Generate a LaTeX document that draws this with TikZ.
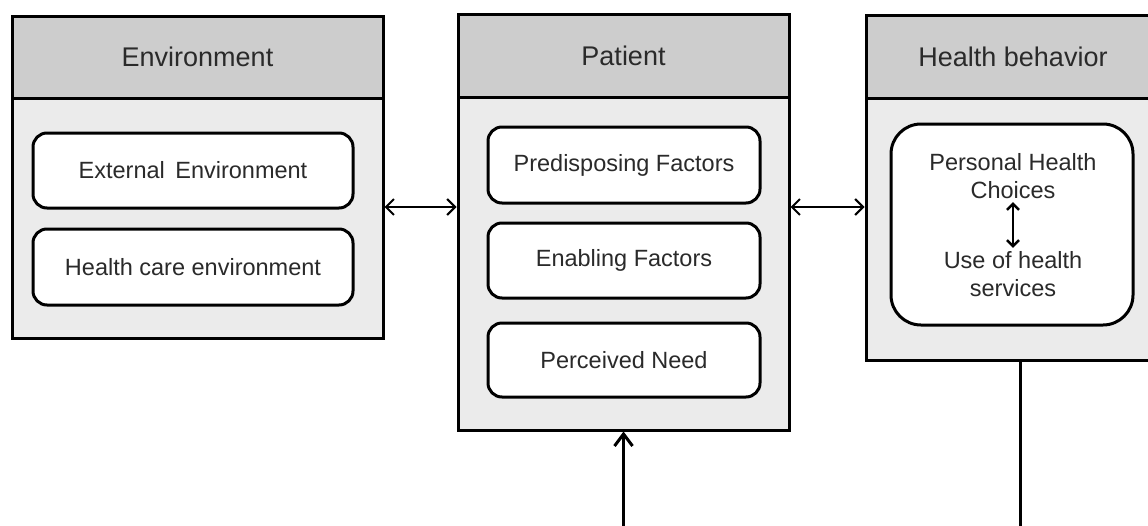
\documentclass[tikz,border=0pt]{standalone}
\usepackage{fontspec}
\setmainfont{Liberation Sans}
\usetikzlibrary{arrows.meta}
\definecolor{headgray}{HTML}{CDCDCD}
\definecolor{bodygray}{HTML}{EBEBEB}
\definecolor{textgray}{HTML}{2A2A2A}
\tikzset{
    headbox/.style={draw, line width=3pt, fill=headgray, text=textgray, minimum height=82pt, font=\fontsize{27}{32}\selectfont},
    bodybox/.style={draw, line width=3pt, fill=bodygray},
    itembox/.style={draw, line width=3pt, fill=white, rounded corners=14pt, text=textgray, font=\fontsize{23.5}{28}\selectfont},
    itemtext/.style={text=textgray, align=center, font=\fontsize{23.5}{28}\selectfont},
    link/.style={line width=2pt, {Straight Barb[length=8pt,width=16pt]}-{Straight Barb[length=8pt,width=16pt]}}
}
\begin{document}
\begin{tikzpicture}[x=1pt, y=-1pt]
            \useasboundingbox (0,0) rectangle (1148,525);
            \clip (0,0) rectangle (1148,525);
            % environment
            \node[bodybox, minimum width=371pt, minimum height=240pt] (envbody) at (197.5,218) {};
            \node[headbox, minimum width=371pt] (envhead) at (197.5,57) {Environment};
            \node[itembox, minimum width=320pt, minimum height=75pt] (ext) at (193,170.5) {External\, Environment};
            \node[itembox, minimum width=320pt, minimum height=76pt] (hcare) at (193,267) {Health care environment};
            % patient
            \node[bodybox, minimum width=331pt, minimum height=333pt] (patbody) at (623.5,263.5) {};
            \node[headbox, minimum width=331pt, minimum height=83pt] (pathead) at (623.5,55.5) {Patient};
            \node[itembox, minimum width=272pt, minimum height=76pt] (predis) at (624,165) {Predisposing Factors};
            \node[itembox, minimum width=272pt, minimum height=75pt] (enab) at (624,260.5) {Enabling Factors};
            \node[itembox, minimum width=272pt, minimum height=74pt] (need) at (624,360) {Perceived Need};
            % health behavior
            \node[bodybox, minimum width=294pt, minimum height=262pt] (behbody) at (1013,229) {};
            \node[headbox, minimum width=294pt, minimum height=83pt] (behhead) at (1013,56.5) {Health behavior};
            \node[itembox, rounded corners=30pt, minimum width=242pt, minimum height=201pt] (choice) at (1012,224.5) {};
            \node[itemtext] (personal) at (1013,176) {Personal Health\\Choices};
            \node[itemtext] (use) at (1013,274) {Use of health\\services};
            \draw[line width=2.5pt, {Straight Barb[length=6pt,width=12pt]}-{Straight Barb[length=6pt,width=12pt]}] (personal.south) -- (use.north);
            % links
            \coordinate (mid) at (0,207);
            \draw[link] (envbody.east |- mid) -- (patbody.west |- mid);
            \draw[link] (patbody.east |- mid) -- (behbody.west |- mid);
            \coordinate (turn) at (1020,527);
            \draw[line width=3pt, -{Straight Barb[length=12pt,width=18pt]}] (behbody.south -| turn) -- (turn) -| (patbody.south);
        \end{tikzpicture}
\end{document}
